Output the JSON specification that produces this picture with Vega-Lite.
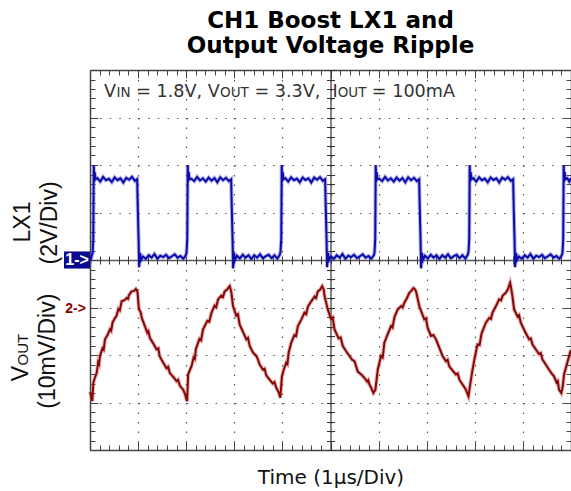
{
"$schema": "https://vega.github.io/schema/vega-lite/v6.json",
"width": 481, "height": 380,
"autosize": {"type": "none"},
"padding": {"left": 90, "top": 70, "right": 0, "bottom": 41},
"background": "white",
"config": {"view": {"stroke": null}},
"title": {"text": ["CH1 Boost LX1 and", "Output Voltage Ripple"], "font": "DejaVu Sans", "fontWeight": "bold", "fontSize": 23, "color": "#000", "anchor": "middle", "frame": "group", "offset": 12, "lineHeight": 25},
"datasets": {
"lx1": [
{"t":0,"v":0.15},{"t":0.02,"v":0.05},{"t":0.04,"v":0.2},{"t":0.055,"v":0.3},{"t":0.068,"v":0.9},
{"t":0.078,"v":4.0},{"t":0.088,"v":3.3},{"t":0.098,"v":3.7},{"t":0.113,"v":3.4},{"t":0.153,"v":3.45},{"t":0.213,"v":3.3},{"t":0.273,"v":3.5},{"t":0.333,"v":3.36},{"t":0.393,"v":3.42},{"t":0.453,"v":3.28},{"t":0.513,"v":3.48},{"t":0.573,"v":3.36},{"t":0.633,"v":3.44},{"t":0.693,"v":3.26},{"t":0.753,"v":3.46},{"t":0.813,"v":3.38},{"t":0.873,"v":3.5},{"t":0.933,"v":3.33},
{"t":0.981,"v":3.4},{"t":0.991,"v":2.4},{"t":1.011,"v":0.8},{"t":1.021,"v":-0.3},{"t":1.041,"v":0.3},{"t":1.061,"v":0.0},
{"t":1.101,"v":0.15},{"t":1.161,"v":0.05},{"t":1.221,"v":0.2},{"t":1.281,"v":0.1},{"t":1.341,"v":0.25},{"t":1.401,"v":0.05},{"t":1.461,"v":0.18},{"t":1.521,"v":0.12},{"t":1.581,"v":0.22},{"t":1.641,"v":0.08},{"t":1.701,"v":0.15},{"t":1.761,"v":0.24},{"t":1.821,"v":0.1},{"t":1.881,"v":0.17},{"t":1.941,"v":0.05},{"t":1.991,"v":0.2},{"t":2.007,"v":0.3},{"t":2.022,"v":0.9},
{"t":2.032,"v":4.0},{"t":2.042,"v":3.3},{"t":2.052,"v":3.7},{"t":2.067,"v":3.4},{"t":2.107,"v":3.42},{"t":2.167,"v":3.32},{"t":2.227,"v":3.5},{"t":2.287,"v":3.35},{"t":2.347,"v":3.44},{"t":2.407,"v":3.3},{"t":2.467,"v":3.47},{"t":2.527,"v":3.34},{"t":2.587,"v":3.45},{"t":2.647,"v":3.27},{"t":2.707,"v":3.48},{"t":2.767,"v":3.36},{"t":2.827,"v":3.46},{"t":2.887,"v":3.32},
{"t":2.935,"v":3.4},{"t":2.945,"v":2.4},{"t":2.965,"v":0.8},{"t":2.975,"v":-0.35},{"t":2.995,"v":0.3},{"t":3.015,"v":0.0},
{"t":3.055,"v":0.18},{"t":3.115,"v":0.06},{"t":3.175,"v":0.22},{"t":3.235,"v":0.1},{"t":3.295,"v":0.2},{"t":3.355,"v":0.04},{"t":3.415,"v":0.2},{"t":3.475,"v":0.1},{"t":3.535,"v":0.24},{"t":3.595,"v":0.07},{"t":3.655,"v":0.16},{"t":3.715,"v":0.22},{"t":3.775,"v":0.08},{"t":3.835,"v":0.2},{"t":3.895,"v":0.06},{"t":3.945,"v":0.22},{"t":3.961,"v":0.35},{"t":3.976,"v":0.9},
{"t":3.986,"v":4.0},{"t":3.996,"v":3.3},{"t":4.006,"v":3.7},{"t":4.021,"v":3.4},{"t":4.061,"v":3.45},{"t":4.121,"v":3.3},{"t":4.181,"v":3.48},{"t":4.241,"v":3.36},{"t":4.301,"v":3.43},{"t":4.361,"v":3.27},{"t":4.421,"v":3.47},{"t":4.481,"v":3.37},{"t":4.541,"v":3.44},{"t":4.601,"v":3.26},{"t":4.661,"v":3.47},{"t":4.721,"v":3.38},{"t":4.781,"v":3.49},{"t":4.841,"v":3.33},
{"t":4.889,"v":3.4},{"t":4.899,"v":2.4},{"t":4.919,"v":0.8},{"t":4.929,"v":-0.3},{"t":4.949,"v":0.3},{"t":4.969,"v":0.0},
{"t":5.009,"v":0.15},{"t":5.069,"v":0.05},{"t":5.129,"v":0.2},{"t":5.189,"v":0.1},{"t":5.249,"v":0.25},{"t":5.309,"v":0.05},{"t":5.369,"v":0.18},{"t":5.429,"v":0.12},{"t":5.489,"v":0.22},{"t":5.549,"v":0.08},{"t":5.609,"v":0.15},{"t":5.669,"v":0.24},{"t":5.729,"v":0.1},{"t":5.789,"v":0.17},{"t":5.849,"v":0.05},{"t":5.899,"v":0.2},{"t":5.915,"v":0.3},{"t":5.93,"v":0.9},
{"t":5.94,"v":4.0},{"t":5.95,"v":3.3},{"t":5.96,"v":3.7},{"t":5.975,"v":3.4},{"t":6.015,"v":3.42},{"t":6.075,"v":3.32},{"t":6.135,"v":3.5},{"t":6.195,"v":3.35},{"t":6.255,"v":3.44},{"t":6.315,"v":3.3},{"t":6.375,"v":3.47},{"t":6.435,"v":3.34},{"t":6.495,"v":3.45},{"t":6.555,"v":3.27},{"t":6.615,"v":3.48},{"t":6.675,"v":3.36},{"t":6.735,"v":3.46},{"t":6.795,"v":3.32},
{"t":6.843,"v":3.4},{"t":6.853,"v":2.4},{"t":6.873,"v":0.8},{"t":6.883,"v":-0.35},{"t":6.903,"v":0.3},{"t":6.923,"v":0.0},
{"t":6.963,"v":0.18},{"t":7.023,"v":0.06},{"t":7.083,"v":0.22},{"t":7.143,"v":0.1},{"t":7.203,"v":0.2},{"t":7.263,"v":0.04},{"t":7.323,"v":0.2},{"t":7.383,"v":0.1},{"t":7.443,"v":0.24},{"t":7.503,"v":0.07},{"t":7.563,"v":0.16},{"t":7.623,"v":0.22},{"t":7.683,"v":0.08},{"t":7.743,"v":0.2},{"t":7.803,"v":0.06},{"t":7.853,"v":0.22},{"t":7.869,"v":0.35},{"t":7.884,"v":0.9},
{"t":7.894,"v":4.0},{"t":7.904,"v":3.3},{"t":7.914,"v":3.7},{"t":7.929,"v":3.4},{"t":7.969,"v":3.45},{"t":8.029,"v":3.3},{"t":8.089,"v":3.48},{"t":8.149,"v":3.36},{"t":8.209,"v":3.43},{"t":8.269,"v":3.27},{"t":8.329,"v":3.47},{"t":8.389,"v":3.37},{"t":8.449,"v":3.44},{"t":8.509,"v":3.26},{"t":8.569,"v":3.47},{"t":8.629,"v":3.38},{"t":8.689,"v":3.49},{"t":8.749,"v":3.33},
{"t":8.797,"v":3.4},{"t":8.807,"v":2.4},{"t":8.827,"v":0.8},{"t":8.837,"v":-0.3},{"t":8.857,"v":0.3},{"t":8.877,"v":0.0},
{"t":8.917,"v":0.15},{"t":8.977,"v":0.05},{"t":9.037,"v":0.2},{"t":9.097,"v":0.1},{"t":9.157,"v":0.25},{"t":9.217,"v":0.05},{"t":9.277,"v":0.18},{"t":9.337,"v":0.12},{"t":9.397,"v":0.22},{"t":9.457,"v":0.08},{"t":9.517,"v":0.15},{"t":9.577,"v":0.24},{"t":9.637,"v":0.1},{"t":9.697,"v":0.17},{"t":9.757,"v":0.05},{"t":9.807,"v":0.2},{"t":9.823,"v":0.3},{"t":9.838,"v":0.9},
{"t":9.848,"v":4.0},{"t":9.858,"v":3.3},{"t":9.868,"v":3.7},{"t":9.883,"v":3.4},{"t":9.923,"v":3.45},{"t":9.963,"v":3.3},{"t":10.0,"v":3.45}
],
"vout": [
{"t":0.0,"mv":-17.8},{"t":0.02,"mv":-18.3},{"t":0.048,"mv":-19.7},{"t":0.069,"mv":-15.9},{"t":0.1,"mv":-14.8},{"t":0.139,"mv":-13.8},{"t":0.17,"mv":-11.5},{"t":0.19,"mv":-11.9},{"t":0.207,"mv":-10.2},{"t":0.26,"mv":-8.6},{"t":0.285,"mv":-8.9},{"t":0.311,"mv":-6.7},{"t":0.36,"mv":-5.9},{"t":0.415,"mv":-4.6},{"t":0.44,"mv":-4.9},{"t":0.47,"mv":-3.1},{"t":0.519,"mv":-2.2},{"t":0.55,"mv":-1.8},{"t":0.59,"mv":-0.3},{"t":0.62,"mv":-0.6},{"t":0.657,"mv":1.3},{"t":0.71,"mv":1.5},{"t":0.761,"mv":2.0},{"t":0.79,"mv":1.8},{"t":0.81,"mv":2.6},{"t":0.865,"mv":3.4},{"t":0.92,"mv":3.5},{"t":0.954,"mv":3.9},{"t":0.975,"mv":3.6},{"t":0.989,"mv":3.1},
{"t":1.017,"mv":-0.4},{"t":1.05,"mv":-0.9},{"t":1.08,"mv":-2.3},{"t":1.141,"mv":-3.9},{"t":1.19,"mv":-5.3},{"t":1.215,"mv":-5.0},{"t":1.245,"mv":-6.4},{"t":1.31,"mv":-7.5},{"t":1.383,"mv":-8.8},{"t":1.42,"mv":-8.6},{"t":1.45,"mv":-10.3},{"t":1.521,"mv":-11.6},{"t":1.59,"mv":-12.8},{"t":1.625,"mv":-12.5},{"t":1.66,"mv":-13.8},{"t":1.73,"mv":-14.6},{"t":1.798,"mv":-15.5},{"t":1.83,"mv":-15.2},{"t":1.87,"mv":-16.5},{"t":1.936,"mv":-17.3},{"t":1.975,"mv":-18.2},{"t":2.005,"mv":-19.4},{"t":2.02,"mv":-19.7},
{"t":2.04,"mv":-14.1},{"t":2.075,"mv":-13.2},{"t":2.11,"mv":-12.4},{"t":2.155,"mv":-10.5},{"t":2.18,"mv":-10.8},{"t":2.2,"mv":-8.8},{"t":2.275,"mv":-6.6},{"t":2.31,"mv":-6.9},{"t":2.35,"mv":-4.6},{"t":2.44,"mv":-2.8},{"t":2.48,"mv":-3.0},{"t":2.525,"mv":-1.1},{"t":2.59,"mv":0.4},{"t":2.625,"mv":0.1},{"t":2.662,"mv":1.7},{"t":2.73,"mv":2.5},{"t":2.765,"mv":2.2},{"t":2.8,"mv":3.4},{"t":2.85,"mv":3.8},{"t":2.905,"mv":4.5},{"t":2.925,"mv":3.8},{"t":2.94,"mv":3.1},
{"t":2.973,"mv":0.3},{"t":3.04,"mv":-1.7},{"t":3.075,"mv":-1.4},{"t":3.112,"mv":-3.6},{"t":3.18,"mv":-5.1},{"t":3.25,"mv":-6.7},{"t":3.285,"mv":-6.4},{"t":3.32,"mv":-8.1},{"t":3.39,"mv":-9.5},{"t":3.458,"mv":-10.2},{"t":3.49,"mv":-10.9},{"t":3.527,"mv":-12.0},{"t":3.596,"mv":-13.1},{"t":3.63,"mv":-12.9},{"t":3.665,"mv":-14.3},{"t":3.734,"mv":-15.2},{"t":3.8,"mv":-16.0},{"t":3.835,"mv":-15.7},{"t":3.873,"mv":-16.9},{"t":3.92,"mv":-17.8},{"t":3.956,"mv":-19.0},
{"t":3.99,"mv":-14.5},{"t":4.03,"mv":-13.0},{"t":4.08,"mv":-11.6},{"t":4.105,"mv":-11.9},{"t":4.13,"mv":-9.5},{"t":4.184,"mv":-7.4},{"t":4.25,"mv":-5.8},{"t":4.285,"mv":-6.0},{"t":4.322,"mv":-3.9},{"t":4.39,"mv":-2.6},{"t":4.46,"mv":-1.1},{"t":4.495,"mv":-1.4},{"t":4.53,"mv":0.2},{"t":4.6,"mv":1.3},{"t":4.67,"mv":2.3},{"t":4.7,"mv":2.0},{"t":4.737,"mv":3.4},{"t":4.78,"mv":3.7},{"t":4.827,"mv":4.5},{"t":4.86,"mv":3.8},{"t":4.876,"mv":2.4},
{"t":4.944,"mv":-0.4},{"t":5.01,"mv":-2.4},{"t":5.045,"mv":-2.1},{"t":5.083,"mv":-4.6},{"t":5.17,"mv":-6.5},{"t":5.21,"mv":-6.3},{"t":5.256,"mv":-8.1},{"t":5.325,"mv":-9.2},{"t":5.394,"mv":-10.2},{"t":5.45,"mv":-11.0},{"t":5.498,"mv":-11.3},{"t":5.567,"mv":-13.5},{"t":5.602,"mv":-13.8},{"t":5.65,"mv":-14.2},{"t":5.705,"mv":-14.8},{"t":5.76,"mv":-15.6},{"t":5.785,"mv":-15.3},{"t":5.809,"mv":-16.2},{"t":5.85,"mv":-17.0},{"t":5.892,"mv":-18.0},{"t":5.934,"mv":-17.3},
{"t":5.982,"mv":-13.1},{"t":6.051,"mv":-10.2},{"t":6.085,"mv":-10.5},{"t":6.12,"mv":-7.4},{"t":6.19,"mv":-5.6},{"t":6.259,"mv":-3.9},{"t":6.29,"mv":-4.2},{"t":6.33,"mv":-2.0},{"t":6.397,"mv":-0.4},{"t":6.47,"mv":0.3},{"t":6.5,"mv":0.0},{"t":6.535,"mv":1.0},{"t":6.59,"mv":2.0},{"t":6.639,"mv":3.1},{"t":6.68,"mv":3.5},{"t":6.722,"mv":4.1},{"t":6.75,"mv":3.9},{"t":6.778,"mv":3.4},
{"t":6.846,"mv":0.3},{"t":6.9,"mv":-1.2},{"t":6.95,"mv":-2.5},{"t":6.985,"mv":-2.3},{"t":7.02,"mv":-4.3},{"t":7.089,"mv":-6.0},{"t":7.14,"mv":-5.8},{"t":7.193,"mv":-6.7},{"t":7.26,"mv":-8.4},{"t":7.33,"mv":-10.2},{"t":7.4,"mv":-11.3},{"t":7.435,"mv":-11.0},{"t":7.469,"mv":-12.4},{"t":7.54,"mv":-13.3},{"t":7.607,"mv":-14.1},{"t":7.645,"mv":-13.9},{"t":7.68,"mv":-15.2},{"t":7.745,"mv":-16.2},{"t":7.81,"mv":-17.2},{"t":7.869,"mv":-18.7},{"t":7.898,"mv":-16.6},
{"t":7.953,"mv":-13.1},{"t":8.0,"mv":-10.5},{"t":8.056,"mv":-7.8},{"t":8.1,"mv":-7.9},{"t":8.14,"mv":-5.5},{"t":8.23,"mv":-3.2},{"t":8.3,"mv":-2.2},{"t":8.335,"mv":-2.4},{"t":8.367,"mv":-1.1},{"t":8.44,"mv":0.3},{"t":8.506,"mv":1.7},{"t":8.545,"mv":1.5},{"t":8.58,"mv":2.5},{"t":8.645,"mv":3.1},{"t":8.69,"mv":3.9},{"t":8.734,"mv":5.2},{"t":8.76,"mv":3.8},{"t":8.782,"mv":2.4},
{"t":8.817,"mv":-0.4},{"t":8.89,"mv":-1.9},{"t":8.92,"mv":-1.6},{"t":8.956,"mv":-3.2},{"t":9.04,"mv":-5.0},{"t":9.129,"mv":-6.7},{"t":9.165,"mv":-6.5},{"t":9.2,"mv":-7.8},{"t":9.267,"mv":-8.8},{"t":9.335,"mv":-9.8},{"t":9.37,"mv":-9.6},{"t":9.405,"mv":-10.9},{"t":9.475,"mv":-12.0},{"t":9.544,"mv":-13.1},{"t":9.6,"mv":-13.9},{"t":9.647,"mv":-14.5},{"t":9.7,"mv":-15.8},{"t":9.725,"mv":-15.5},{"t":9.751,"mv":-17.3},{"t":9.799,"mv":-18.0},{"t":9.83,"mv":-16.5},
{"t":9.855,"mv":-14.1},{"t":9.924,"mv":-11.6},{"t":9.98,"mv":-9.5},{"t":10.0,"mv":-9.0}
],
"origin": [{"t":0,"d":0}]
},
"layer": [
{"data":{"name":"origin"},"mark":{"type":"point","opacity":0},
 "encoding":{
  "x":{"field":"t","type":"quantitative","scale":{"domain":[0,10],"nice":false,"zero":false},
   "axis":{"orient":"bottom","values":[1,2,3,4,5,6,7,8,9],"tickSize":-8,"tickColor":"#444","labels":false,"domain":false,"grid":true,"gridDash":[1.5,8],"gridColor":"#555","gridWidth":1.2,"title":null}},
  "y":{"field":"d","type":"quantitative","scale":{"domain":[-4,4],"nice":false,"zero":false},
   "axis":{"orient":"left","values":[-3,-2,-1,0,1,2,3],"tickSize":-8,"tickColor":"#444","labels":false,"domain":false,"grid":true,"gridDash":[1.5,8.12],"gridColor":"#555","gridWidth":1.2,"title":null}}}},
{"data":{"name":"origin"},"mark":{"type":"point","opacity":0},
 "encoding":{
  "x":{"field":"t","type":"quantitative","scale":{"domain":[0,10],"nice":false,"zero":false},
   "axis":{"orient":"top","values":[1,2,3,4,5,6,7,8,9],"tickSize":-8,"tickColor":"#444","labels":false,"domain":false,"grid":false,"title":null}},
  "y":{"field":"d","type":"quantitative","scale":{"domain":[-4,4],"nice":false,"zero":false},
   "axis":{"orient":"right","values":[-3,-2,-1,0,1,2,3],"tickSize":-8,"tickColor":"#444","labels":false,"domain":false,"grid":false,"title":null}}}},
{"data":{"name":"origin"},"mark":{"type":"point","opacity":0},
 "encoding":{
  "x":{"field":"t","type":"quantitative","scale":{"domain":[0,10],"nice":false,"zero":false},
   "axis":{"orient":"bottom","tickCount":50,"tickSize":-5,"tickColor":"#444","domainColor":"#444","domainWidth":1.5,"labels":false,"grid":false,
     "title":"Time (1µs/Div)","titleFont":"DejaVu Sans","titleFontSize":20,"titleFontWeight":"normal","titleColor":"#111","titleBaseline":"alphabetic","titlePadding":33}},
  "y":{"field":"d","type":"quantitative","scale":{"domain":[-4,4],"nice":false,"zero":false},
   "axis":{"orient":"left","tickCount":40,"tickSize":-5,"tickColor":"#444","domainColor":"#444","domainWidth":1.5,"labels":false,"grid":false,"title":null}}}},
{"data":{"name":"origin"},"mark":{"type":"point","opacity":0},
 "encoding":{
  "x":{"field":"t","type":"quantitative","scale":{"domain":[0,10],"nice":false,"zero":false},
   "axis":{"orient":"top","tickCount":50,"tickSize":-5,"tickColor":"#444","domainColor":"#444","domainWidth":1.5,"labels":false,"grid":false,"title":null}},
  "y":{"field":"d","type":"quantitative","scale":{"domain":[-4,4],"nice":false,"zero":false},
   "axis":{"orient":"right","tickCount":40,"tickSize":-5,"tickColor":"#444","domainColor":"#444","domainWidth":1.5,"labels":false,"grid":false,"title":null}}}},
{"data":{"name":"origin"},"mark":{"type":"point","opacity":0},
 "encoding":{
  "x":{"field":"t","type":"quantitative","scale":{"domain":[0,10],"nice":false,"zero":false},
   "axis":{"orient":"bottom","offset":-190,"tickCount":50,"tickSize":4,"tickColor":"#333","domainColor":"#555","domainWidth":1.5,"labels":false,"grid":false,"title":null}},
  "y":{"field":"d","type":"quantitative","scale":{"domain":[-4,4],"nice":false,"zero":false},
   "axis":{"orient":"left","offset":-240.5,"tickCount":40,"tickSize":4,"tickColor":"#333","domainColor":"#333","domainWidth":1.2,"labels":false,"grid":false,"title":null}}}},
{"data":{"name":"origin"},"mark":{"type":"point","opacity":0},
 "encoding":{
  "x":{"field":"t","type":"quantitative","scale":{"domain":[0,10],"nice":false,"zero":false},
   "axis":{"orient":"top","offset":-190,"tickCount":50,"tickSize":4,"tickColor":"#333","domain":false,"labels":false,"grid":false,"title":null}},
  "y":{"field":"d","type":"quantitative","scale":{"domain":[-4,4],"nice":false,"zero":false},
   "axis":{"orient":"right","offset":-240.5,"tickCount":40,"tickSize":4,"tickColor":"#333","domain":false,"labels":false,"grid":false,"title":null}}}},
{"data":{"name":"lx1"},"mark":{"type":"line","color":"#5a5ad0","strokeWidth":4,"opacity":0.45},
 "encoding":{
  "x":{"field":"t","type":"quantitative","scale":{"domain":[0,10],"nice":false,"zero":false},"axis":null},
  "y":{"field":"v","type":"quantitative","scale":{"domain":[-8,8],"nice":false,"zero":false},"axis":null}}},
{"data":{"name":"lx1"},"mark":{"type":"line","color":"#0c0ca8","strokeWidth":2},
 "encoding":{
  "x":{"field":"t","type":"quantitative","scale":{"domain":[0,10],"nice":false,"zero":false},"axis":null},
  "y":{"field":"v","type":"quantitative","scale":{"domain":[-8,8],"nice":false,"zero":false},"axis":null}}},
{"data":{"name":"vout"},"mark":{"type":"line","color":"#c06060","strokeWidth":4,"opacity":0.45},
 "encoding":{
  "x":{"field":"t","type":"quantitative","scale":{"domain":[0,10],"nice":false,"zero":false},"axis":null},
  "y":{"field":"mv","type":"quantitative","scale":{"domain":[-30,50],"nice":false,"zero":false},"axis":null}}},
{"data":{"name":"vout"},"mark":{"type":"line","color":"#880808","strokeWidth":2},
 "encoding":{
  "x":{"field":"t","type":"quantitative","scale":{"domain":[0,10],"nice":false,"zero":false},"axis":null},
  "y":{"field":"mv","type":"quantitative","scale":{"domain":[-30,50],"nice":false,"zero":false},"axis":null}}},
{"data":{"name":"origin"},"mark":{"type":"rect","color":"#0a0a90"},
 "encoding":{
  "x":{"datum":-0.54,"type":"quantitative","scale":{"domain":[0,10],"nice":false,"zero":false},"axis":null},"x2":{"datum":0},
  "y":{"datum":0.18,"type":"quantitative","scale":{"domain":[-4,4],"nice":false,"zero":false},"axis":null},"y2":{"datum":-0.18}}},
{"data":{"name":"origin"},"mark":{"type":"text","text":"1->","font":"Liberation Sans","fontSize":16,"fontWeight":"bold","color":"white","align":"center","baseline":"middle"},
 "encoding":{
  "x":{"datum":-0.27,"type":"quantitative","scale":{"domain":[0,10],"nice":false,"zero":false},"axis":null},
  "y":{"datum":0,"type":"quantitative","scale":{"domain":[-4,4],"nice":false,"zero":false},"axis":null}}},
{"data":{"name":"origin"},"mark":{"type":"text","text":"2->","font":"Liberation Sans","fontSize":14,"fontWeight":"bold","color":"#8b0000","align":"center","baseline":"middle"},
 "encoding":{
  "x":{"datum":-0.3,"type":"quantitative","scale":{"domain":[0,10],"nice":false,"zero":false},"axis":null},
  "y":{"datum":-1.03,"type":"quantitative","scale":{"domain":[-4,4],"nice":false,"zero":false},"axis":null}}},
{"data":{"name":"origin"},"mark":{"type":"text","text":"LX1","angle":270,"font":"Liberation Sans","fontSize":23,"color":"#111","align":"center","baseline":"middle"},
 "encoding":{
  "x":{"datum":-1.39,"type":"quantitative","scale":{"domain":[0,10],"nice":false,"zero":false},"axis":null},
  "y":{"datum":0.8,"type":"quantitative","scale":{"domain":[-4,4],"nice":false,"zero":false},"axis":null}}},
{"data":{"name":"origin"},"mark":{"type":"text","text":"(2V/Div)","angle":270,"font":"Liberation Sans","fontSize":23,"color":"#111","align":"center","baseline":"middle"},
 "encoding":{
  "x":{"datum":-0.83,"type":"quantitative","scale":{"domain":[0,10],"nice":false,"zero":false},"axis":null},
  "y":{"datum":0.78,"type":"quantitative","scale":{"domain":[-4,4],"nice":false,"zero":false},"axis":null}}},
{"data":{"name":"origin"},"mark":{"type":"text","text":"V","angle":270,"font":"Liberation Sans","fontSize":23,"color":"#111","align":"left","baseline":"alphabetic"},
 "encoding":{
  "x":{"datum":-1.29,"type":"quantitative","scale":{"domain":[0,10],"nice":false,"zero":false},"axis":null},
  "y":{"datum":-2.55,"type":"quantitative","scale":{"domain":[-4,4],"nice":false,"zero":false},"axis":null}}},
{"data":{"name":"origin"},"mark":{"type":"text","text":"OUT","angle":270,"font":"Liberation Sans","fontSize":15,"color":"#111","align":"left","baseline":"alphabetic"},
 "encoding":{
  "x":{"datum":-1.29,"type":"quantitative","scale":{"domain":[0,10],"nice":false,"zero":false},"axis":null},
  "y":{"datum":-2.22,"type":"quantitative","scale":{"domain":[-4,4],"nice":false,"zero":false},"axis":null}}},
{"data":{"name":"origin"},"mark":{"type":"text","text":"(10mV/Div)","angle":270,"font":"Liberation Sans","fontSize":23,"color":"#111","align":"center","baseline":"middle"},
 "encoding":{
  "x":{"datum":-0.88,"type":"quantitative","scale":{"domain":[0,10],"nice":false,"zero":false},"axis":null},
  "y":{"datum":-1.92,"type":"quantitative","scale":{"domain":[-4,4],"nice":false,"zero":false},"axis":null}}},
{"data":{"name":"origin"},"mark":{"type":"text","text":"V","font":"DejaVu Sans","fontSize":17.6,"color":"#333","align":"left","baseline":"alphabetic"},
 "encoding":{
  "x":{"datum":0.291,"type":"quantitative","scale":{"domain":[0,10],"nice":false,"zero":false},"axis":null},
  "y":{"datum":3.43,"type":"quantitative","scale":{"domain":[-4,4],"nice":false,"zero":false},"axis":null}}},
{"data":{"name":"origin"},"mark":{"type":"text","text":"IN","font":"DejaVu Sans","fontSize":13.5,"color":"#333","align":"left","baseline":"alphabetic"},
 "encoding":{
  "x":{"datum":0.551,"type":"quantitative","scale":{"domain":[0,10],"nice":false,"zero":false},"axis":null},
  "y":{"datum":3.43,"type":"quantitative","scale":{"domain":[-4,4],"nice":false,"zero":false},"axis":null}}},
{"data":{"name":"origin"},"mark":{"type":"text","text":"= 1.8V,","font":"DejaVu Sans","fontSize":17.6,"color":"#333","align":"left","baseline":"alphabetic"},
 "encoding":{
  "x":{"datum":0.96,"type":"quantitative","scale":{"domain":[0,10],"nice":false,"zero":false},"axis":null},
  "y":{"datum":3.43,"type":"quantitative","scale":{"domain":[-4,4],"nice":false,"zero":false},"axis":null}}},
{"data":{"name":"origin"},"mark":{"type":"text","text":"V","font":"DejaVu Sans","fontSize":17.6,"color":"#333","align":"left","baseline":"alphabetic"},
 "encoding":{
  "x":{"datum":2.449,"type":"quantitative","scale":{"domain":[0,10],"nice":false,"zero":false},"axis":null},
  "y":{"datum":3.43,"type":"quantitative","scale":{"domain":[-4,4],"nice":false,"zero":false},"axis":null}}},
{"data":{"name":"origin"},"mark":{"type":"text","text":"OUT","font":"DejaVu Sans","fontSize":13.5,"color":"#333","align":"left","baseline":"alphabetic"},
 "encoding":{
  "x":{"datum":2.703,"type":"quantitative","scale":{"domain":[0,10],"nice":false,"zero":false},"axis":null},
  "y":{"datum":3.43,"type":"quantitative","scale":{"domain":[-4,4],"nice":false,"zero":false},"axis":null}}},
{"data":{"name":"origin"},"mark":{"type":"text","text":"= 3.3V,","font":"DejaVu Sans","fontSize":17.6,"color":"#333","align":"left","baseline":"alphabetic"},
 "encoding":{
  "x":{"datum":3.418,"type":"quantitative","scale":{"domain":[0,10],"nice":false,"zero":false},"axis":null},
  "y":{"datum":3.43,"type":"quantitative","scale":{"domain":[-4,4],"nice":false,"zero":false},"axis":null}}},
{"data":{"name":"origin"},"mark":{"type":"text","text":"I","font":"DejaVu Sans","fontSize":17.6,"color":"#333","align":"left","baseline":"alphabetic"},
 "encoding":{
  "x":{"datum":5.04,"type":"quantitative","scale":{"domain":[0,10],"nice":false,"zero":false},"axis":null},
  "y":{"datum":3.43,"type":"quantitative","scale":{"domain":[-4,4],"nice":false,"zero":false},"axis":null}}},
{"data":{"name":"origin"},"mark":{"type":"text","text":"OUT","font":"DejaVu Sans","fontSize":13.5,"color":"#333","align":"left","baseline":"alphabetic"},
 "encoding":{
  "x":{"datum":5.15,"type":"quantitative","scale":{"domain":[0,10],"nice":false,"zero":false},"axis":null},
  "y":{"datum":3.43,"type":"quantitative","scale":{"domain":[-4,4],"nice":false,"zero":false},"axis":null}}},
{"data":{"name":"origin"},"mark":{"type":"text","text":"= 100mA","font":"DejaVu Sans","fontSize":17.6,"color":"#333","align":"left","baseline":"alphabetic"},
 "encoding":{
  "x":{"datum":5.86,"type":"quantitative","scale":{"domain":[0,10],"nice":false,"zero":false},"axis":null},
  "y":{"datum":3.43,"type":"quantitative","scale":{"domain":[-4,4],"nice":false,"zero":false},"axis":null}}}
],
"resolve": {"scale": {"y": "independent"}, "axis": {"x": "independent", "y": "independent"}}
}
